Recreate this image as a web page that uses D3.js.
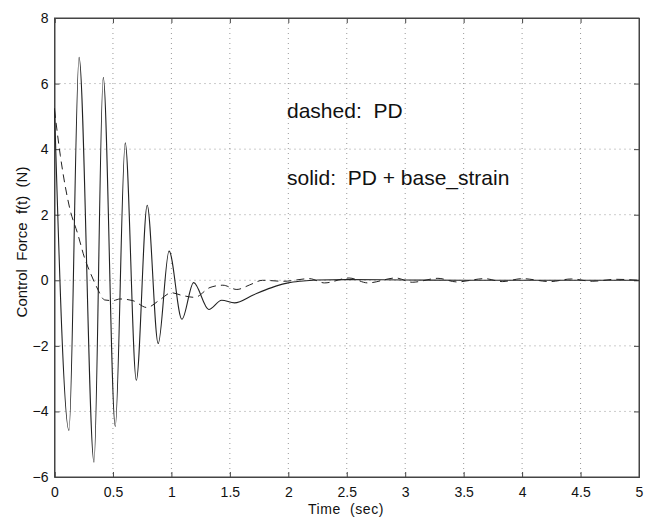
<!DOCTYPE html>
<html>
<head>
<meta charset="utf-8">
<script src="https://cdn.jsdelivr.net/npm/d3@7"></script>
<style>
  body { margin: 0; background: #fff; }
  text { font-family: "Liberation Sans", Arial, sans-serif; fill: #111; white-space: pre; }
</style>
</head>
<body>
<div id="chart-area"></div>
<script>
// Data
var solidT = [0, 0.124, 0.21, 0.338, 0.417, 0.52, 0.605, 0.70, 0.793, 0.887, 0.98, 1.09, 1.19, 1.32, 1.43, 1.54, 1.7, 1.8, 1.9, 2.0, 2.1, 2.25, 2.5, 3.0, 3.5, 4.0, 4.5, 5.0];
var solidF = [5.25, -4.58, 6.8, -5.55, 6.19, -4.46, 4.19, -3.05, 2.29, -1.93, 0.89, -1.19, -0.07, -0.89, -0.61, -0.69, -0.45, -0.3, -0.17, -0.08, -0.03, 0.01, 0.02, 0.01, 0.0, 0.0, 0.0, 0.0];

var dashedT = [0, 0.05, 0.13, 0.2, 0.26, 0.31, 0.36, 0.43, 0.5, 0.56, 0.67, 0.79, 0.9, 1.0, 1.09, 1.2, 1.33, 1.44, 1.56, 1.67, 1.78, 1.96, 2.18, 2.31, 2.52, 2.68, 2.92, 3.06, 3.28, 3.44, 3.68, 3.83, 4.0, 4.24, 4.42, 4.6, 4.8, 5.0];
var dashedF = [5.2, 3.8, 2.2, 1.4, 0.65, 0.2, -0.2, -0.6, -0.62, -0.57, -0.62, -0.83, -0.6, -0.38, -0.46, -0.52, -0.22, -0.15, -0.28, -0.14, 0.0, -0.03, 0.05, -0.08, 0.07, -0.08, 0.07, -0.06, 0.06, -0.05, 0.05, -0.04, 0.05, -0.04, 0.04, -0.03, 0.03, 0.0];

var xTicks = [0, 0.5, 1, 1.5, 2, 2.5, 3, 3.5, 4, 4.5, 5];
var yTicks = [-6, -4, -2, 0, 2, 4, 6, 8];

var margin = {top: 18, right: 11, bottom: 40, left: 54.5};
var width = 650 - margin.left - margin.right;
var height = 517 - margin.top - margin.bottom;

var svg = d3.select("#chart-area").append("svg").attr("width", 650).attr("height", 517);
svg.append("rect").attr("width", 650).attr("height", 517).attr("fill", "#fff");
var g = svg.append("g").attr("transform", "translate(" + margin.left + "," + margin.top + ")");

// Scales
var x = d3.scaleLinear().domain([0, 5]).range([0, width]);
var y = d3.scaleLinear().domain([-6, 8]).range([height, 0]);

// Grid
g.selectAll(".vgrid").data(xTicks.slice(1, -1)).enter().append("line")
  .attr("x1", d => x(d)).attr("x2", d => x(d)).attr("y1", 0).attr("y2", height)
  .attr("stroke", "#999").attr("stroke-width", 1).attr("stroke-dasharray", "1,4");
g.selectAll(".hgrid").data(yTicks.slice(1, -1)).enter().append("line")
  .attr("y1", d => y(d)).attr("y2", d => y(d)).attr("x1", 0).attr("x2", width)
  .attr("stroke", "#999").attr("stroke-width", 1).attr("stroke-dasharray", "1,4");

// Axes
var xAxisGroup = g.append("g").attr("transform", "translate(0," + height + ")")
  .call(d3.axisBottom(x).tickValues(xTicks).tickSize(-5).tickPadding(10).tickFormat(d3.format("")));
var yAxisGroup = g.append("g")
  .call(d3.axisLeft(y).tickValues(yTicks).tickSize(-5).tickPadding(6));
var xTop = g.append("g").call(d3.axisTop(x).tickValues(xTicks).tickSize(-5).tickFormat(""));
var yRight = g.append("g").attr("transform", "translate(" + width + ",0)")
  .call(d3.axisRight(y).tickValues(yTicks).tickSize(-5).tickFormat(""));

[xAxisGroup, yAxisGroup, xTop, yRight].forEach(a => {
  a.selectAll("line").attr("stroke", "#444");
  a.select(".domain").attr("stroke", "#444");
  a.selectAll("text").style("font-size", "14px").style("font-family", "Liberation Sans, Arial, sans-serif").attr("fill", "#111");
});
g.append("rect").attr("width", width).attr("height", height).attr("fill", "none").attr("stroke", "#444").attr("stroke-width", 1);

// Lines
var solid = solidT.map((t, i) => ({t: t, f: solidF[i]}));
var dashed = dashedT.map((t, i) => ({t: t, f: dashedF[i]}));
var line = d3.line().x(d => x(d.t)).y(d => y(d.f)).curve(d3.curveMonotoneX);

g.append("path").datum(dashed).attr("d", line).attr("fill", "none")
  .attr("stroke", "#222").attr("stroke-width", 1).attr("stroke-dasharray", "8,5");
g.append("path").datum(solid).attr("d", line).attr("fill", "none")
  .attr("stroke", "#222").attr("stroke-width", 1.1);

// Labels
svg.append("text").attr("x", 346).attr("y", 514).attr("text-anchor", "middle")
  .style("font-size", "14px").style("letter-spacing", "0.6px").text("Time  (sec)");
svg.append("text").attr("transform", "translate(27,242) rotate(-90)")
  .attr("text-anchor", "middle").style("font-size", "15px").text("Control  Force  f(t)  (N)");

// Annotations
svg.append("text").attr("x", 287).attr("y", 118).style("font-size", "21px").text("dashed:  PD");
svg.append("text").attr("x", 287).attr("y", 185).style("font-size", "21px").text("solid:  PD + base_strain");
</script>
</body>
</html>
